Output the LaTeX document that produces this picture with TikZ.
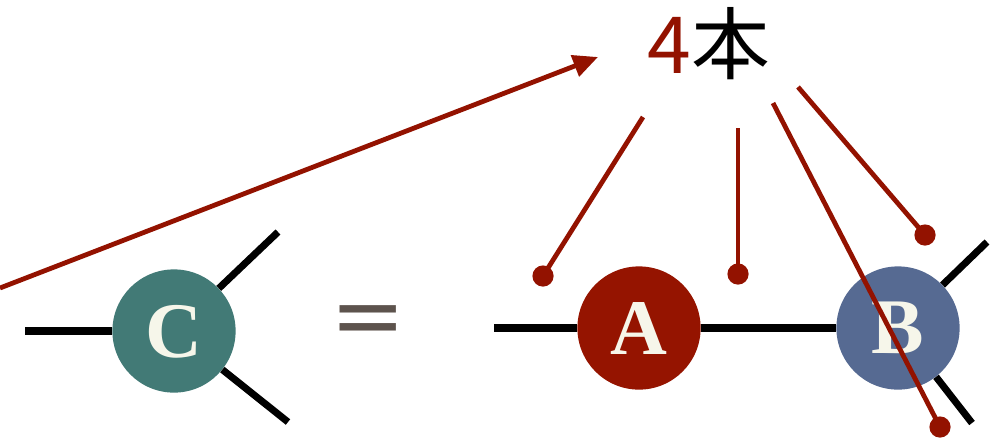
\documentclass[tikz,border=0pt]{standalone}
\usepackage{fontspec}
\setmainfont{Liberation Serif}
\newfontfamily\cjk{Noto Sans CJK JP}
\newfontfamily\eqfont{DejaVu Sans}
\usetikzlibrary{arrows.meta, positioning}
\definecolor{tealC}{HTML}{427A76}
\definecolor{redA}{HTML}{951400}
\definecolor{blueB}{HTML}{566A92}
\definecolor{legred}{HTML}{931200}
\definecolor{eqgray}{HTML}{5D534D}
\definecolor{cream}{HTML}{F6F6EA}

\begin{document}
\begin{tikzpicture}[x=0.025cm, y=-0.025cm]
    \tikzstyle{tensor} = [circle, minimum size=3.08cm, inner sep=0pt, text=cream, font=\fontsize{56}{56}\selectfont\bfseries]
    \tikzstyle{leg} = [line width=5pt, black]
    \tikzstyle{pointer} = [line width=3.4pt, legred]
    \tikzstyle{dot} = [circle, fill=legred, minimum size=0.53cm, inner sep=0pt]
    \useasboundingbox (0,0) rectangle (1003,437);

    % left side
    \node (C) [tensor, fill=tealC, text depth=-0.1cm] at (174,331) {C};
    \coordinate (cl) at (25,331);
    \coordinate (cu) at (278,232);
    \coordinate (cd) at (288,422);
    \draw [leg] (C) -- (cl);
    \draw [leg] (C) -- (cu);
    \draw [leg] (C) -- (cd);

    \node (eq) [text=eqgray, font=\eqfont\fontsize{64}{64}\selectfont] at (368,326) {=};

    % right side
    \node (A) [tensor, fill=redA, text depth=-0.1cm] at (639,328) {A};
    \node (B) [tensor, fill=blueB, text depth=-0.1cm] at (898,328) {B};
    \coordinate (al) at (494,328);
    \coordinate (bu) at (987,242);
    \coordinate (bd) at (972,423);
    \draw [leg] (A) -- (al);
    \draw [leg] (A) -- (B);
    \draw [leg] (B) -- (bu);
    \draw [leg] (B) -- (bd);

    % count of legs
    \node (count) [font=\cjk\fontsize{56}{56}\selectfont] at (709,44) {\textcolor{legred}{4}本};
    \coordinate (from) at (0,288);
    \coordinate (tip) at (598,57);
    \draw [pointer, -{Triangle[length=0.62cm, width=0.55cm]}] (from) -- (tip);

    \node (d1) [dot] at (543,276) {};
    \node (d2) [dot] at (738,274) {};
    \node (d3) [dot] at (940,427) {};
    \node (d4) [dot] at (925,235) {};
    \coordinate (s1) at (643,117);
    \coordinate (s2) at (738,128);
    \coordinate (s3) at (773,103);
    \coordinate (s4) at (798,87);
    \draw [pointer] (s1) -- (d1.center);
    \draw [pointer] (s2) -- (d2.center);
    \draw [pointer] (s3) -- (d3.center);
    \draw [pointer] (s4) -- (d4.center);
\end{tikzpicture}
\end{document}
